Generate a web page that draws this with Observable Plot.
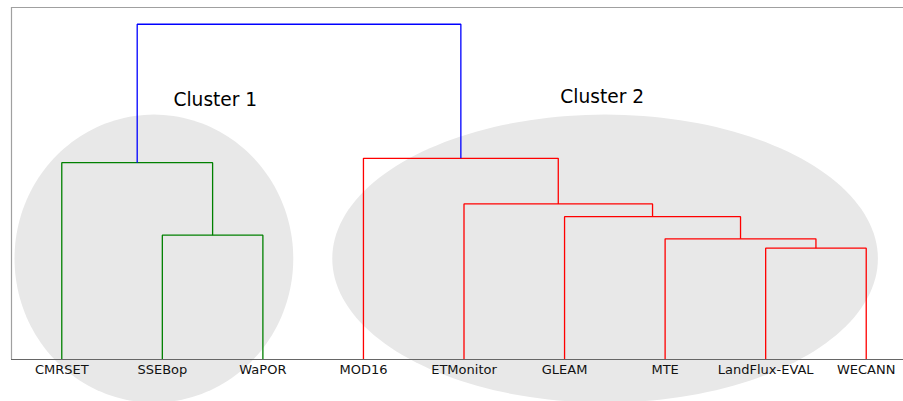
<!DOCTYPE html>
<html>
<head>
<meta charset="utf-8">
<script src="https://cdn.jsdelivr.net/npm/d3@7"></script>
<script src="https://cdn.jsdelivr.net/npm/@observablehq/plot@0.6"></script>
<style>
  html, body { margin: 0; padding: 0; background: #fff; }
  svg { display: block; }
</style>
</head>
<body>
<div id="chart"></div>
<script>
// Leaves (dendrogram order)
const leaves = ["CMRSET", "SSEBop", "WaPOR", "MOD16", "ETMonitor", "GLEAM", "MTE", "LandFlux-EVAL", "WECANN"];
// Merges: [left child id, right child id, height, color]; ids 0..8 are leaves, new nodes get 9, 10, ...
const mergeLeft   = [1, 0, 7, 6, 5, 4, 3, 10];
const mergeRight  = [2, 9, 8, 11, 12, 13, 14, 15];
const mergeHeight = [0.371, 0.587, 0.332, 0.360, 0.426, 0.464, 0.600, 1.000];
const mergeColor  = ["#008000", "#008000", "#ff0000", "#ff0000", "#ff0000", "#ff0000", "#ff0000", "#0000ff"];
// Cluster annotations (ellipses and labels, in data units)
const clusterNames = ["Cluster 1", "Cluster 2"];
const ellipseCx = [14.16, 59.03];
const ellipseCy = [0.301, 0.301];
const ellipseRx = [13.86, 27.13];
const ellipseRy = [0.4295, 0.4295];
const labelX = [20.27, 58.74];
const labelY = [0.755, 0.764];

// Build link paths
const nodeX = leaves.map((_, i) => 5 + 10 * i);
const nodeH = leaves.map(() => 0);
const linkPts = [];
mergeLeft.forEach((l, k) => {
  const r = mergeRight[k], h = mergeHeight[k], c = mergeColor[k];
  const pts = [[nodeX[l], nodeH[l]], [nodeX[l], h], [nodeX[r], h], [nodeX[r], nodeH[r]]];
  pts.forEach(([x, y], j) => linkPts.push({link: k, x, y, color: c, j}));
  nodeX.push((nodeX[l] + nodeX[r]) / 2);
  nodeH.push(h);
});

// Ellipse outlines
const ellPts = [];
clusterNames.forEach((name, e) => {
  for (let t = 0; t <= 360; t += 2) {
    const a = t * Math.PI / 180;
    ellPts.push({e: name, x: ellipseCx[e] + ellipseRx[e] * Math.cos(a), y: ellipseCy[e] + ellipseRy[e] * Math.sin(a)});
  }
});
const labels = clusterNames.map((name, i) => ({name, x: labelX[i], y: labelY[i]}));

const yMax = 1.05 * d3.max(mergeHeight);

const chart = Plot.plot({
  width: 903,
  height: 401,
  marginLeft: 11,
  marginTop: 7,
  marginBottom: 42,
  marginRight: 0,
  style: {fontFamily: "DejaVu Sans", fontSize: "13px", background: "#fff", color: "#222"},
  x: {domain: [0, 10 * leaves.length], range: [11, 916], label: null},
  y: {domain: [0, yMax], range: [359, 7], label: null},
  marks: [
    Plot.line(ellPts, {x: "x", y: "y", z: "e", fill: "#e8e8e8", stroke: "none", curve: "linear"}),
    Plot.line(linkPts, {x: "x", y: "y", z: "link", stroke: "color", strokeWidth: 1.3, strokeLinejoin: "miter", strokeLinecap: "butt"}),
    Plot.text(labels, {x: "x", y: "y", text: "name", fontSize: 18.6, lineAnchor: "bottom", fill: "#000"}),
    Plot.ruleX([0], {stroke: "#a0a0a0", strokeWidth: 1.2}),
    Plot.ruleY([yMax], {stroke: "#a0a0a0", strokeWidth: 1.2}),
    Plot.ruleY([0], {stroke: "#666", strokeWidth: 1.2}),
    Plot.axisX(nodeX.slice(0, leaves.length), {
      tickSize: 0, tickPadding: 5, fontSize: 13, fill: "#111",
      tickFormat: (d) => leaves[Math.round((d - 5) / 10)], label: null
    }),
    Plot.axisY({ticks: []})
  ]
});
document.getElementById("chart").appendChild(chart);
</script>
</body>
</html>
